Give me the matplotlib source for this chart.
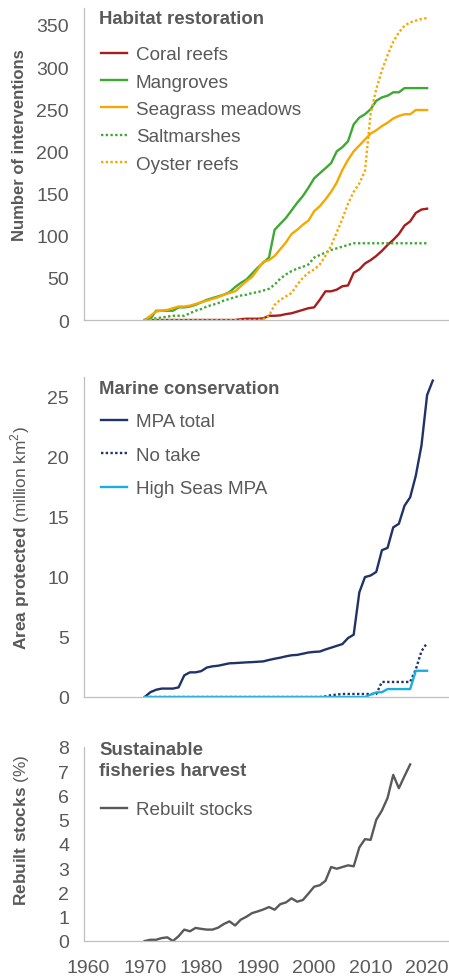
import matplotlib
matplotlib.use("Agg")
import matplotlib.pyplot as plt
import numpy as np

plt.rcParams["font.family"] = ["Liberation Sans", "DejaVu Sans"]
plt.rcParams["mathtext.fontset"] = "custom"
plt.rcParams["mathtext.rm"] = "Liberation Sans"
plt.rcParams["mathtext.bf"] = "Liberation Sans:bold"

# ---- habitat restoration (number of interventions), 1970-2020 ----
hab_years = np.arange(1970, 2021)
coral = [0, 0, 0, 0, 0, 0, 0, 0, 0, 0, 0, 0, 0, 0, 0, 0, 0, 1, 1.5, 1.5,
         1.5, 2, 5, 5, 5.5, 7, 8, 10, 12, 14, 15, 24, 34, 34, 36, 40, 41, 56, 60, 67,
         71, 76, 82, 89, 95, 102, 112, 117, 127, 131, 132]
mangroves = [0, 1, 11, 11, 11, 11, 15, 15, 16, 18, 21, 24, 26, 28, 30, 33, 39, 44, 48, 55,
             62, 68, 74, 107, 114, 121, 130, 139, 147, 157, 168, 174, 180, 186, 200, 205, 212, 232, 240, 244,
             250, 260, 264, 266, 270, 270, 275, 275, 275, 275, 275]
seagrass = [0, 5, 10, 11, 12, 14, 16, 16, 17, 19, 21, 23, 25, 27, 30, 32, 34, 40, 46, 51,
            60, 69, 71, 76, 84, 92, 102, 107, 113, 118, 129, 135, 143, 152, 163, 178, 190, 200, 207, 214,
            221, 225, 230, 234, 239, 242, 244, 244, 249, 249, 249]
saltmarshes = [0, 1, 2, 3, 4, 5, 5, 5, 8, 11, 13, 16, 18, 20, 23, 25, 27, 29, 30, 32,
               33, 35, 37, 42, 49, 54, 58, 61, 63, 66, 74, 77, 80, 83, 85, 87, 89, 91, 91, 91,
               91, 91, 91, 91, 91, 91, 91, 91, 91, 91, 91]
oyster = [0, 0, 0, 0, 0, 0, 0, 0, 0, 0, 0, 0, 0, 0, 0, 0, 0, 0, 0, 0,
          0, 1, 5, 18, 24, 28, 32, 42, 50, 56, 60, 66, 76, 88, 104, 120, 138, 152, 162, 177,
          245, 274, 296, 314, 330, 341, 349, 353, 355, 357, 358]

# ---- marine conservation (million km2) ----
mpa_years = np.arange(1970, 2022)
mpa_total = [0.0, 0.4, 0.6, 0.7, 0.7, 0.7, 0.8, 1.8, 2.05, 2.05,
             2.15, 2.45, 2.55, 2.6, 2.7, 2.8, 2.82, 2.85, 2.88, 2.9,
             2.93, 2.96, 3.08, 3.18, 3.27, 3.38, 3.47, 3.5, 3.6, 3.7,
             3.75, 3.78, 3.95, 4.1, 4.25, 4.4, 4.9, 5.18, 8.7, 9.97,
             10.1, 10.4, 12.2, 12.4, 14.1, 14.4, 15.9, 16.6, 18.4, 20.9,
             25.1, 26.3]
sub_years = np.arange(1970, 2021)
no_take = [0] * 32 + [0.05, 0.15, 0.2, 0.25, 0.25, 0.25, 0.25, 0.25, 0.25, 0.25,
                      1.25, 1.25, 1.25, 1.25, 1.25, 1.25, 2.3, 3.8, 4.5]
high_seas = [0] * 40 + [0.2, 0.38, 0.4, 0.66, 0.66, 0.66, 0.66, 0.66, 2.18, 2.18, 2.18]

# ---- sustainable fisheries (% rebuilt stocks), 1970-2017 ----
fish_years = np.arange(1970, 2018)
rebuilt = [0.0, 0.05, 0.05, 0.12, 0.15, 0.0, 0.2, 0.47, 0.4, 0.54,
           0.5, 0.47, 0.47, 0.55, 0.7, 0.81, 0.64, 0.88, 1.0, 1.15,
           1.22, 1.3, 1.4, 1.29, 1.52, 1.59, 1.76, 1.62, 1.69, 1.96,
           2.24, 2.3, 2.48, 3.05, 2.98, 3.05, 3.12, 3.08, 3.86, 4.2,
           4.17, 5.0, 5.38, 5.9, 6.85, 6.3, 6.8, 7.28]

GREY = "#595959"
RED = "#A81C1C"
GREEN = "#3DA935"
ORANGE = "#F6A800"
NAVY = "#1F3366"
CYAN = "#1AAEDE"
DOT = (0, (1, 1))

W, H = 449, 978
fig = plt.figure(figsize=(W / 100, H / 100), dpi=100)


def make_ax(top, bottom):
    ax = fig.add_axes([84.3 / W, 1 - bottom / H, (448 - 84.3) / W, (bottom - top) / H])
    for s in ("top", "right"):
        ax.spines[s].set_visible(False)
    for s in ("left", "bottom"):
        ax.spines[s].set_color("#BFBFBF")
        ax.spines[s].set_linewidth(0.9)
    ax.tick_params(length=0, labelsize=14, colors=GREY, pad=11)
    ax.set_xlim(1959.3, 2023.7)
    ax.set_xticks([1960, 1970, 1980, 1990, 2000, 2010, 2020])
    return ax


def legend(ax, title, title_y, top, spacing):
    # panel heading, then a plain legend below it
    fig.text(99 / W, 1 - title_y / H, title, ha="left", va="center", fontsize=13.4,
             fontweight="bold", color=GREY, linespacing=1.3)
    leg = ax.legend(loc="upper left", bbox_to_anchor=(101 / W, 1 - top / H),
                    bbox_transform=fig.transFigure, frameon=False, fontsize=13.6,
                    handlelength=1.35, handletextpad=0.5, labelspacing=spacing,
                    borderpad=0, borderaxespad=0)
    for t in leg.get_texts():
        t.set_color(GREY)
    return leg


lw = 1.7

# panel 1
ax1 = make_ax(9, 321)
ax1.plot(hab_years, coral, color=RED, lw=lw, label="Coral reefs")
ax1.plot(hab_years, mangroves, color=GREEN, lw=lw, label="Mangroves")
ax1.plot(hab_years, seagrass, color=ORANGE, lw=lw, label="Seagrass meadows")
ax1.plot(hab_years, saltmarshes, color=GREEN, lw=lw, ls=DOT, label="Saltmarshes")
ax1.plot(hab_years, oyster, color=ORANGE, lw=lw, ls=DOT, label="Oyster reefs")
ax1.set_ylim(0, 370)
ax1.set_yticks(np.arange(0, 351, 50))
ax1.tick_params(labelbottom=False)
legend(ax1, "Habitat restoration", 20, 47, 0.54)

# panel 2
ax2 = make_ax(378, 698)
ax2.plot(mpa_years, mpa_total, color=NAVY, lw=lw, label="MPA total")
ax2.plot(sub_years, no_take, color=NAVY, lw=lw, ls=DOT, label="No take")
ax2.plot(sub_years, high_seas, color=CYAN, lw=lw, label="High Seas MPA")
ax2.set_ylim(0, 26.6)
ax2.set_yticks([0, 5, 10, 15, 20, 25])
ax2.tick_params(labelbottom=False)
legend(ax2, "Marine conservation", 390, 414, 0.86)

# panel 3
ax3 = make_ax(748, 942)
ax3.plot(fish_years, rebuilt, color=GREY, lw=lw, label="Rebuilt stocks")
ax3.set_ylim(0, 7.9)
ax3.set_yticks(np.arange(0, 9, 1))
ax3.tick_params(axis="x", pad=13)
legend(ax3, "Sustainable\nfisheries harvest", 761, 802, 0.5)

# y labels
fig.text(20 / W, 1 - 145 / H, "Number of interventions", rotation=90, ha="center", va="center",
         fontsize=12.0, fontweight="bold", color=GREY)
fig.text(20 / W, 1 - 538 / H, r"$\mathbf{Area\ protected}$ (million km$^{2}$)", rotation=90,
         ha="center", va="center", fontsize=12.4, color=GREY)
fig.text(22 / W, 1 - 830 / H, r"$\mathbf{Rebuilt\ stocks}$ (%)", rotation=90,
         ha="center", va="center", fontsize=12.4, color=GREY)

fig.savefig("out.png", dpi=100)
